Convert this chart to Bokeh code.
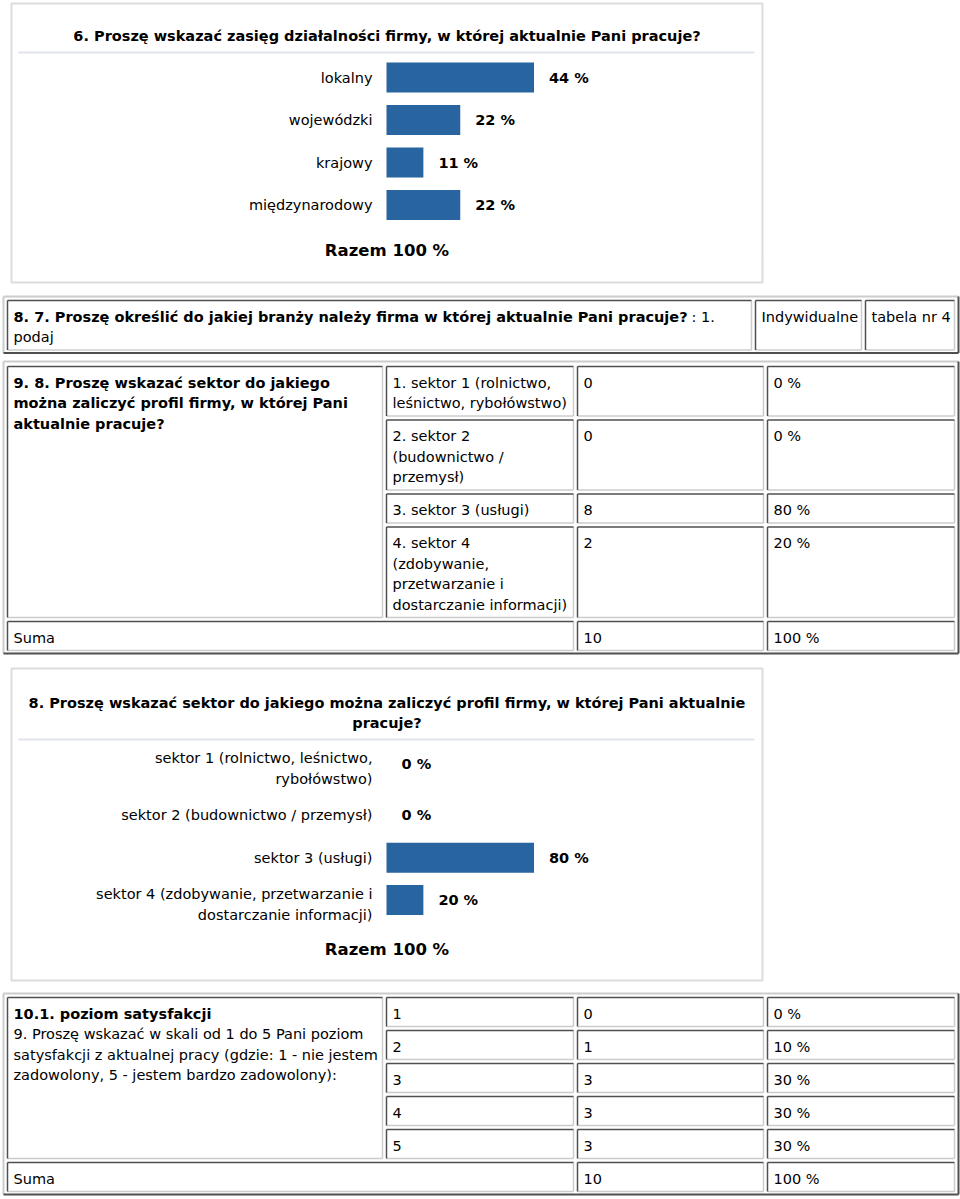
from collections import defaultdict

from bokeh.plotting import figure
from bokeh.models import Range1d, ColumnDataSource
from bokeh.core.properties import value
from bokeh.embed import file_html
from bokeh.resources import INLINE

# ---------------------------------------------------------------- data
q6_title = "6. Proszę wskazać zasięg działalności firmy, w której aktualnie Pani pracuje?"
q6_categories = ["lokalny", "wojewódzki", "krajowy", "międzynarodowy"]
q6_values = [44, 22, 11, 22]
q6_total = "Razem 100 %"

q87_title_bold = "8. 7. Proszę określić do jakiej branży należy firma w której aktualnie Pani pracuje?"
q87_title_rest = ": 1."
q87_title_line2 = "podaj"
q87_type = "Indywidualne"
q87_table = "tabela nr 4"

q98_title = ["9. 8. Proszę wskazać sektor do jakiego",
             "można zaliczyć profil firmy, w której Pani",
             "aktualnie pracuje?"]
q98_categories = [["1. sektor 1 (rolnictwo,", "leśnictwo, rybołówstwo)"],
                  ["2. sektor 2", "(budownictwo /", "przemysł)"],
                  ["3. sektor 3 (usługi)"],
                  ["4. sektor 4", "(zdobywanie,", "przetwarzanie i", "dostarczanie informacji)"]]
q98_counts = [0, 0, 8, 2]
q98_percents = [0, 0, 80, 20]
q98_sum_label = "Suma"
q98_sum_count = 10
q98_sum_percent = 100

q8_title = ["8. Proszę wskazać sektor do jakiego można zaliczyć profil firmy, w której Pani aktualnie",
            "pracuje?"]
q8_categories = [["sektor 1 (rolnictwo, leśnictwo,", "rybołówstwo)"],
                 ["sektor 2 (budownictwo / przemysł)"],
                 ["sektor 3 (usługi)"],
                 ["sektor 4 (zdobywanie, przetwarzanie i", "dostarczanie informacji)"]]
q8_values = [0, 0, 80, 20]
q8_total = "Razem 100 %"

q10_title_bold = "10.1. poziom satysfakcji"
q10_title = ["9. Proszę wskazać w skali od 1 do 5 Pani poziom",
             "satysfakcji z aktualnej pracy (gdzie: 1 - nie jestem",
             "zadowolony, 5 - jestem bardzo zadowolony):"]
q10_levels = [1, 2, 3, 4, 5]
q10_counts = [0, 1, 3, 3, 3]
q10_percents = [0, 10, 30, 30, 30]
q10_sum_label = "Suma"
q10_sum_count = 10
q10_sum_percent = 100

# ---------------------------------------------------------------- layout / style
W, H = 960, 1199
X0, X1 = 0, 960
Y0, Y1 = 0, 1199
FONT = value("DejaVu Sans")
BAR_COLOR = "#2764a0"
BOX_COLOR = "#dcdcdc"
SEP_COLOR = "#dfe4ea"
LIGHT = "#cccccc"
DARK = "#4f4f4f"
FS = 14.5          # table / label font size
FS_TOTAL = 16.5
LINE_H = 20.5
FIRST_LINE = 16
PAD_X = 6
GAP = 4
COLS = [(7, 382), (386, 573), (577, 763), (767, 954)]
OUT_L, OUT_R = 3, 958
Q87_REST_X = 691

BAR_X0 = 386
BAR_MAX_PX = 147.5
BAR_H = 30
LABEL_X = 372
VALUE_OFFSET = 15
BOX_L, BOX_R = 11, 762
CENTER_X = (BOX_L + BOX_R) / 2

p = figure(width=W, height=H, x_range=Range1d(X0, X1), y_range=Range1d(Y1, Y0),
           output_backend="svg", toolbar_location=None, min_border=0,
           x_axis_location=None, y_axis_location=None,
           background_fill_color="white", border_fill_color="white")
p.grid.visible = False
p.outline_line_color = None

TXT = defaultdict(lambda: {"x": [], "y": [], "text": []})


def put(x, y, s, size=FS, bold=False, align="left"):
    d = TXT[(size, bold, align)]
    d["x"].append(x)
    d["y"].append(y)
    d["text"].append(s)


SEG = {LIGHT: defaultdict(list), DARK: defaultdict(list)}
SEG_OUT = {LIGHT: defaultdict(list), DARK: defaultdict(list)}


def seg(store, color, x0, y0, x1, y1):
    d = store[color]
    d["x0"].append(x0); d["y0"].append(y0); d["x1"].append(x1); d["y1"].append(y1)


def outset(x0, y0, x1, y1):
    seg(SEG_OUT, LIGHT, x0, y0, x1, y0)
    seg(SEG_OUT, LIGHT, x0, y0, x0, y1)
    seg(SEG_OUT, DARK, x0, y1, x1, y1)
    seg(SEG_OUT, DARK, x1, y0, x1, y1)


def inset(x0, y0, x1, y1):
    seg(SEG, DARK, x0, y0, x1, y0)
    seg(SEG, DARK, x0, y0, x0, y1)
    seg(SEG, LIGHT, x0, y1, x1, y1)
    seg(SEG, LIGHT, x1, y0, x1, y1)


def cell(col, top, bottom, lines, bold=False):
    x0, x1 = col
    inset(x0, top, x1, bottom)
    for i, s in enumerate(lines):
        put(x0 + PAD_X, top + FIRST_LINE + i * LINE_H, s, bold=bold)


def cell_h(n_lines):
    return 8.5 + LINE_H * n_lines


# ---------------------------------------------------------------- bar chart helper
def bar_chart(name, title_lines, title_y, sep_y, cats, vals, first_top, total, total_y, box):
    p.quad(left=box[0], right=box[1], top=box[2], bottom=box[3],
           fill_color=None, line_color=BOX_COLOR, line_width=2)
    for i, s in enumerate(title_lines):
        put(CENTER_X, title_y + i * 20, s, bold=True, align="center")
    p.segment(x0=[18], y0=[sep_y], x1=[754], y1=[sep_y], line_color=SEP_COLOR, line_width=2)

    ppu = BAR_MAX_PX / max(vals)
    p.extra_x_ranges[name] = Range1d((X0 - BAR_X0) / ppu, (X1 - BAR_X0) / ppu)

    bar_y = []
    top = first_top
    for lines in cats:
        lines = lines if isinstance(lines, list) else [lines]
        n = len(lines)
        h = max(42.5, LINE_H * n + 10)
        c = top + h / 2
        for j, s in enumerate(lines):
            put(LABEL_X, c + (j - (n - 1) / 2) * LINE_H, s, align="right")
        bar_y.append(c - 4.5 * (n - 1))
        top += h

    src = ColumnDataSource(dict(y=bar_y, v=vals, lab=[f"{v} %" for v in vals]))
    p.hbar(y="y", height=BAR_H, left=0, right="v", source=src, x_range_name=name,
           fill_color=BAR_COLOR, line_color=None)
    p.text(x="v", y="y", text="lab", source=src, x_range_name=name, x_offset=VALUE_OFFSET,
           text_font=FONT, text_font_size=f"{FS}px", text_font_style="bold",
           text_align="left", text_baseline="middle", text_color="black")
    put(CENTER_X, total_y, total, size=FS_TOTAL, bold=True, align="center")


# ---- block 1: question 6 chart
bar_chart("q6", [q6_title], 35, 52, q6_categories, q6_values, 55.75, q6_total, 250,
          (BOX_L, BOX_R, 3, 282))

# ---- block 2: table 8.7
t_top = 296
outset(OUT_L, t_top, OUT_R, t_top + 4 + cell_h(2) + 3)
c_top, c_bot = t_top + 4, t_top + 4 + cell_h(2)
inset(7, c_top, 751, c_bot)
put(7 + PAD_X, c_top + FIRST_LINE, q87_title_bold, bold=True)
put(Q87_REST_X, c_top + FIRST_LINE, q87_title_rest)
put(7 + PAD_X, c_top + FIRST_LINE + LINE_H, q87_title_line2)
cell((755, 861), c_top, c_bot, [q87_type])
cell((865, 954), c_top, c_bot, [q87_table])

# ---- block 3: table 9.8
t_top = 361
y = t_top + 5
first = y
for lines, cnt, pc in zip(q98_categories, q98_counts, q98_percents):
    h = cell_h(len(lines))
    cell(COLS[1], y, y + h, lines)
    cell(COLS[2], y, y + h, [str(cnt)])
    cell(COLS[3], y, y + h, [f"{pc} %"])
    y += h + GAP
cell(COLS[0], first, y - GAP, q98_title, bold=True)
h = cell_h(1)
cell((COLS[0][0], COLS[1][1]), y, y + h, [q98_sum_label])
cell(COLS[2], y, y + h, [str(q98_sum_count)])
cell(COLS[3], y, y + h, [f"{q98_sum_percent} %"])
outset(OUT_L, t_top, OUT_R, y + h + 3)

# ---- block 4: question 8 chart
bar_chart("q8", q8_title, 702, 739, q8_categories, q8_values, 742.5, q8_total, 949,
          (BOX_L, BOX_R, 668, 980))

# ---- block 5: table 10.1
t_top = 993
y = t_top + 4
first = y
for lvl, cnt, pc in zip(q10_levels, q10_counts, q10_percents):
    h = cell_h(1)
    cell(COLS[1], y, y + h, [str(lvl)])
    cell(COLS[2], y, y + h, [str(cnt)])
    cell(COLS[3], y, y + h, [f"{pc} %"])
    y += h + GAP
inset(COLS[0][0], first, COLS[0][1], y - GAP)
put(COLS[0][0] + PAD_X, first + FIRST_LINE, q10_title_bold, bold=True)
for i, s in enumerate(q10_title):
    put(COLS[0][0] + PAD_X, first + FIRST_LINE + (i + 1) * LINE_H, s)
h = cell_h(1)
cell((COLS[0][0], COLS[1][1]), y, y + h, [q10_sum_label])
cell(COLS[2], y, y + h, [str(q10_sum_count)])
cell(COLS[3], y, y + h, [f"{q10_sum_percent} %"])
outset(OUT_L, t_top, OUT_R, y + h + 3)

# ---------------------------------------------------------------- render borders & text
for color, d in SEG_OUT.items():
    p.segment(x0="x0", y0="y0", x1="x1", y1="y1", source=ColumnDataSource(dict(d)),
              line_color=color, line_width=2)
for color, d in SEG.items():
    p.segment(x0="x0", y0="y0", x1="x1", y1="y1", source=ColumnDataSource(dict(d)),
              line_color=color, line_width=1.5)

for (size, bold, align), d in TXT.items():
    p.text(x="x", y="y", text="text", source=ColumnDataSource(dict(d)),
           text_font=FONT, text_font_size=f"{size}px",
           text_font_style="bold" if bold else "normal",
           text_align=align, text_baseline="middle", text_color="black")

open("out.html", "w").write(file_html(p, INLINE))
